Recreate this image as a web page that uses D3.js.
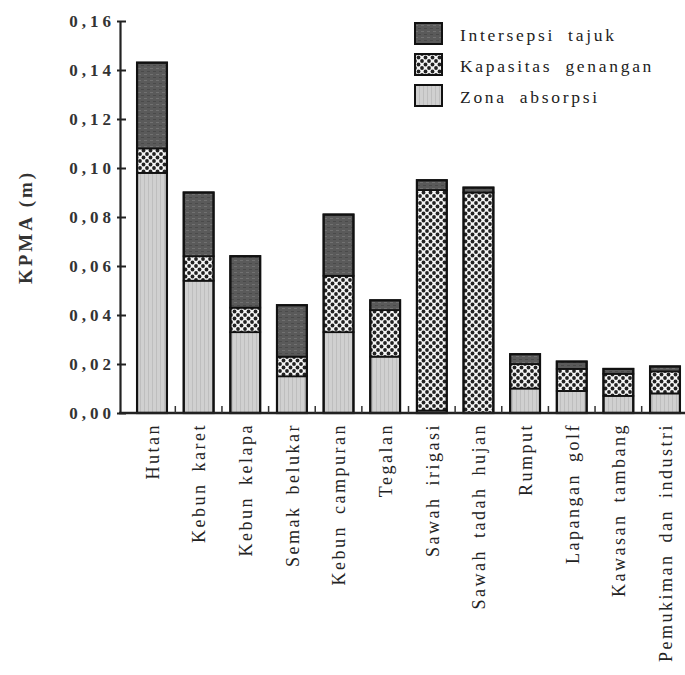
<!DOCTYPE html>
<html><head><meta charset="utf-8">
<script src="https://cdn.jsdelivr.net/npm/d3@7"></script>
<style>body{margin:0;background:#fff}svg{display:block}</style>
</head><body>
<svg id="c" width="685" height="675"></svg>
<script>
const categories = ["Hutan","Kebun karet","Kebun kelapa","Semak belukar","Kebun campuran","Tegalan","Sawah irigasi","Sawah tadah hujan","Rumput","Lapangan golf","Kawasan tambang","Pemukiman dan industri"];
const zonaAbsorpsi = [0.098,0.054,0.033,0.015,0.033,0.023,0.001,0.000,0.010,0.009,0.007,0.008];
const kapasitasGenangan = [0.010,0.010,0.010,0.008,0.023,0.019,0.090,0.090,0.010,0.009,0.009,0.009];
const intersepsiTajuk = [0.035,0.026,0.021,0.021,0.025,0.004,0.004,0.002,0.004,0.003,0.002,0.002];
const seriesNames = ["Intersepsi tajuk","Kapasitas genangan","Zona absorpsi"];
const yTicks = [0,0.02,0.04,0.06,0.08,0.10,0.12,0.14,0.16];

const svg = d3.select("#c");
const defs = svg.append("defs");
const p1 = defs.append("pattern").attr("id","pInt").attr("patternUnits","userSpaceOnUse").attr("width",6).attr("height",6);
p1.append("rect").attr("width",6).attr("height",6).attr("fill","#5a5a5a");
p1.append("rect").attr("x",0).attr("y",2).attr("width",3).attr("height",1).attr("fill","#717171");
p1.append("rect").attr("x",3).attr("y",5).attr("width",3).attr("height",1).attr("fill","#4a4a4a");
const p2 = defs.append("pattern").attr("id","pKap").attr("patternUnits","userSpaceOnUse").attr("width",7).attr("height",7);
p2.append("rect").attr("width",7).attr("height",7).attr("fill","#f4f4f4");
[[0,0],[7,0],[0,7],[7,7],[3.5,3.5]].forEach(([cx,cy])=>p2.append("circle").attr("cx",cx).attr("cy",cy).attr("r",1.9).attr("fill","#222"));
const p3 = defs.append("pattern").attr("id","pZon").attr("patternUnits","userSpaceOnUse").attr("width",4).attr("height",4);
p3.append("rect").attr("width",4).attr("height",4).attr("fill","#d0d0d0");
p3.append("rect").attr("x",0).attr("width",1).attr("height",4).attr("fill","#bebebe");
const fills = {"Intersepsi tajuk":"url(#pInt)","Kapasitas genangan":"url(#pKap)","Zona absorpsi":"url(#pZon)"};

const y = d3.scaleLinear().domain([0,0.16]).range([413,21]);
const x = d3.scalePoint().domain(categories).range([152,665]);
const step = x.step();
const bw = step*0.64;

const rows = categories.map((c,i)=>({cat:c,"Zona absorpsi":zonaAbsorpsi[i],"Kapasitas genangan":kapasitasGenangan[i],"Intersepsi tajuk":intersepsiTajuk[i]}));
const stack = d3.stack().keys(["Zona absorpsi","Kapasitas genangan","Intersepsi tajuk"])(rows);

stack.forEach(s=>{
  svg.append("g").selectAll("rect").data(s).join("rect")
    .attr("x",d=>x(d.data.cat)-bw/2)
    .attr("width",bw)
    .attr("y",d=>y(d[1]))
    .attr("height",d=>Math.max(0,y(d[0])-y(d[1])))
    .attr("fill",fills[s.key])
    .attr("stroke","#111").attr("stroke-width",1.8);
});
const total = d=>d["Zona absorpsi"]+d["Kapasitas genangan"]+d["Intersepsi tajuk"];
svg.append("g").selectAll("rect").data(rows).join("rect")
  .attr("x",d=>x(d.cat)-bw/2).attr("width",bw)
  .attr("y",d=>y(total(d)))
  .attr("height",d=>y(0)-y(total(d)))
  .attr("fill","none").attr("stroke","#111").attr("stroke-width",2.2);

// y axis
const fmt = d=>d3.format(".2f")(d).replace(".",",");
const ya = svg.append("g").attr("transform","translate(120,0)")
  .call(d3.axisLeft(y).tickValues(yTicks).tickFormat(fmt).tickSizeInner(-6).tickSizeOuter(0).tickPadding(5));
ya.select(".domain").attr("stroke","#222").attr("stroke-width",2.2);
ya.selectAll(".tick line").attr("stroke","#222").attr("stroke-width",2).attr("x1",-3);
ya.selectAll(".tick text").attr("font-family","Liberation Serif").attr("font-size",17).attr("font-weight","bold")
  .attr("letter-spacing","4px").attr("fill","#333");

// x axis
const xa = svg.append("g").attr("transform","translate(0,413)")
  .call(d3.axisBottom(x).tickSize(0).tickPadding(0));
xa.select(".domain").remove();
svg.append("line").attr("x1",119).attr("x2",685).attr("y1",413).attr("y2",413).attr("stroke","#222").attr("stroke-width",2.5);
xa.selectAll(".tick text")
  .attr("transform","rotate(-90)").attr("text-anchor","end").attr("dy","0.35em").attr("x",-10).attr("y",0)
  .attr("font-family","Liberation Serif").attr("font-size",18).attr("letter-spacing","2.5px").attr("word-spacing","4px").attr("fill","#222");
svg.append("g").selectAll("line").data(categories.slice(1)).join("line")
  .attr("x1",d=>x(d)-step/2).attr("x2",d=>x(d)-step/2)
  .attr("y1",413).attr("y2",406).attr("stroke","#333").attr("stroke-width",1.5);

// y label
svg.append("text").attr("transform","translate(32,227) rotate(-90)").attr("text-anchor","middle")
  .attr("font-family","Liberation Serif").attr("font-size",19).attr("font-weight","bold").attr("letter-spacing","3px")
  .attr("fill","#333").text("KPMA  (m)");

// legend
const lg = svg.append("g").selectAll("g").data(seriesNames).join("g")
  .attr("transform",(d,i)=>`translate(415,${23+i*31})`);
lg.append("rect").attr("width",27).attr("height",21).attr("fill",d=>fills[d]).attr("stroke","#111").attr("stroke-width",2);
lg.append("text").attr("x",45).attr("y",12).attr("dy","0.35em")
  .attr("font-family","Liberation Serif").attr("font-size",17.5).attr("letter-spacing","2.7px").attr("word-spacing","6px")
  .attr("fill","#222").text(d=>d);
</script>
</body></html>
